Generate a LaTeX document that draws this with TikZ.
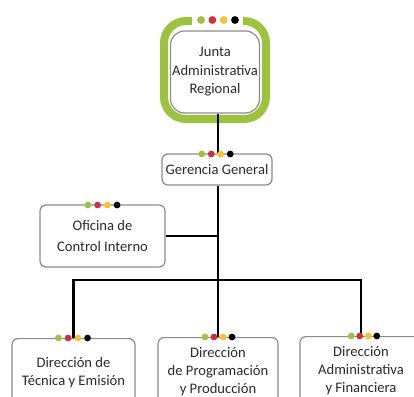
\documentclass[tikz,border=0pt]{standalone}
\usepackage{fontspec}
\setmainfont{Carlito}
\definecolor{lime}{HTML}{9DC23D}
\definecolor{dotred}{HTML}{D22E43}
\definecolor{dotyellow}{HTML}{F3C534}
\definecolor{boxgray}{HTML}{8C8C8C}
\definecolor{inkgray}{HTML}{2B2B2B}
\tikzset{
  orgbox/.style={draw=boxgray, line width=1.2pt, rounded corners=6pt, fill=white,
    inner sep=0pt, text=inkgray, align=center},
  orgtext/.style={text=inkgray, align=center, inner sep=0pt,
    font=\fontsize{14.6}{18}\selectfont},
  link/.style={line width=2.4pt, black},
  pics/dotrow/.style 2 args={code={
    \fill[lime]      (-1.5*#1,0) circle (#2);
    \fill[dotred]    (-0.5*#1,0) circle (#2);
    \fill[dotyellow] ( 0.5*#1,0) circle (#2);
    \fill[black]     ( 1.5*#1,0) circle (#2);
  }}
}
\begin{document}
\begin{tikzpicture}[x=1pt,y=-1pt]
  \useasboundingbox (0,0) rectangle (414,396);
  \clip (0,0) rectangle (414,396);

  % top governing body: green frame around a grey card
  \draw[lime, line width=8pt, rounded corners=22pt] (164,21) rectangle (266,119);
  \node[orgbox, rounded corners=14pt, minimum width=89pt, minimum height=82pt,
        font=\fontsize{14.6}{18.5}\selectfont] (jar) at (215,72)
        {Junta\\Administrativa\\Regional};
  \fill[white] (192,14) rectangle (243,27);
  \pic at (218,20) {dotrow={11.3}{3.9}};

  % general management
  \node[orgbox, minimum width=110pt, minimum height=31pt,
        font=\fontsize{14.6}{18}\selectfont] (gg) at (217,169.5) {Gerencia General};

  % internal control office
  \node[orgbox, minimum width=125pt, minimum height=62pt,
        font=\fontsize{14.6}{21.5}\selectfont] (oci) at (102.5,236)
        {Oficina de\\Control Interno};

  % directorates (extend below the page edge)
  \node[orgbox, minimum width=123pt, minimum height=90pt, anchor=north] (dir1) at (73.5,338) {};
  \node[orgbox, minimum width=120pt, minimum height=90pt, anchor=north] (dir2) at (218,337) {};
  \node[orgbox, minimum width=122pt, minimum height=90pt, anchor=north] (dir3) at (361,336) {};
  \node[orgtext, anchor=north] (t1) at ([yshift=-19pt]dir1.north) {Dirección de\\Técnica y Emisión};
  \node[orgtext, anchor=north] (t2) at ([yshift=-10pt]dir2.north) {Dirección\\de Programación\\y Producción};
  \node[orgtext, anchor=north] (t3) at ([yshift=-10pt]dir3.north) {Dirección\\Administrativa\\y Financiera};

  % connectors
  \coordinate (bus) at (218,280);
  \draw[link] (jar.south -| gg.north) ++(1,0) -- ([xshift=1pt]gg.north);
  \draw[link] ([xshift=1pt]gg.south) -- (dir2.north);
  \draw[link] (oci.east) -- (oci.east -| dir2.north);
  \draw[link] (dir1.north) |- (bus) -| (dir3.north);

  % colour dots on the cards
  \pic at (216,154) {dotrow={9.5}{3.4}};
  \pic at (102.5,205) {dotrow={9.7}{3.4}};
  \pic at (73,338) {dotrow={9.7}{3.4}};
  \pic at (218.5,337) {dotrow={9}{3.4}};
  \pic at (364,336) {dotrow={8.5}{3.4}};
\end{tikzpicture}
\end{document}
